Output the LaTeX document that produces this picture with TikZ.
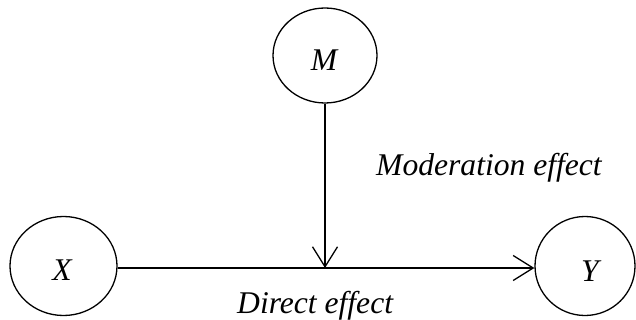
\documentclass[tikz,border=0pt]{standalone}
\usepackage{fontspec}
\setmainfont{Liberation Serif}
\usetikzlibrary{shapes.geometric,arrows.meta}
\begin{document}
\begin{tikzpicture}[x=1pt,y=-1pt,
  var/.style={draw,ellipse,line width=1.3pt,inner sep=0pt},
  lbl/.style={inner sep=0pt,font=\fontsize{31.6}{36}\selectfont\itshape},
  conn/.style={line width=1.3pt,-{Straight Barb[length=20pt,width=25pt,line width=1.3pt]}}]
\useasboundingbox (0,0) rectangle (636,320);
\node[var,minimum width=104pt,minimum height=95pt] (M) at (325,55.5) {};
\node[var,minimum width=107pt,minimum height=99pt] (X) at (63.5,266) {};
\node[var,minimum width=100pt,minimum height=99pt] (Y) at (585,266) {};
\node[lbl] (ml) at (324,60) {M};
\node[lbl] (xl) at (62,270) {X};
\node[lbl] (yl) at (590,271) {Y};
\coordinate (J) at (M.south |- 0,268);
\coordinate (XE) at (X.center -| X.east);
\draw[conn] (X.east |- J) -- (Y.west |- J);
\draw[conn] (M.south) -- (J);
\node[lbl,anchor=base west] (mod) at (376,176) {Moderation effect};
\node[lbl,anchor=base west] (dir) at (237,313) {Direct effect};
\end{tikzpicture}
\end{document}
